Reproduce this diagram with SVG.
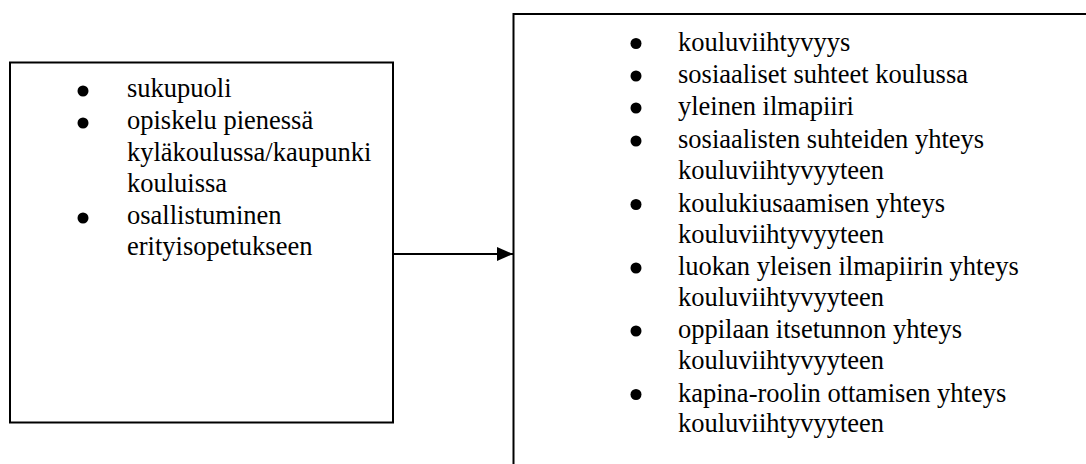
<svg xmlns="http://www.w3.org/2000/svg" width="1086" height="464" viewBox="0 0 1086 464">
  <style>
    .box { fill: #ffffff; stroke: #000000; stroke-width: 2; }
    .txt { font-family: "Liberation Serif", "Times New Roman", serif; font-size: 26.5px; fill: #000000; }
    .dot { fill: #000000; }
    .edge { stroke: #000000; stroke-width: 2; fill: none; }
  </style>
  <defs>
    <marker id="arrow" markerWidth="16" markerHeight="14" refX="16" refY="7" orient="auto" markerUnits="userSpaceOnUse">
      <path d="M0,0 L16,7 L0,14 Z" fill="#000000"/>
    </marker>
  </defs>

  <rect width="1086" height="464" fill="#ffffff"/>

  <!-- background factors -->
  <g id="node-background">
    <rect class="box" x="10" y="62.5" width="383" height="360"/>
    <circle class="dot" cx="83" cy="91" r="5.5"/>
    <circle class="dot" cx="83" cy="123" r="5.5"/>
    <circle class="dot" cx="83" cy="218" r="5.5"/>
    <text class="txt">
      <tspan x="127" y="97">sukupuoli</tspan>
      <tspan x="127" y="129">opiskelu pienessä</tspan>
      <tspan x="127" y="161">kyläkoulussa/kaupunki</tspan>
      <tspan x="127" y="192">kouluissa</tspan>
      <tspan x="127" y="224">osallistuminen</tspan>
      <tspan x="127" y="255">erityisopetukseen</tspan>
    </text>
  </g>

  <!-- school wellbeing topics -->
  <g id="node-wellbeing">
    <rect class="box" x="513.5" y="14" width="600" height="500"/>
    <circle class="dot" cx="636" cy="43.5" r="5.5"/>
    <circle class="dot" cx="636" cy="76" r="5.5"/>
    <circle class="dot" cx="636" cy="108" r="5.5"/>
    <circle class="dot" cx="636" cy="141" r="5.5"/>
    <circle class="dot" cx="636" cy="204.5" r="5.5"/>
    <circle class="dot" cx="636" cy="268" r="5.5"/>
    <circle class="dot" cx="636" cy="331" r="5.5"/>
    <circle class="dot" cx="636" cy="394.5" r="5.5"/>
    <text class="txt">
      <tspan x="678" y="50.7">kouluviihtyvyys</tspan>
      <tspan x="678" y="83.3">sosiaaliset suhteet koulussa</tspan>
      <tspan x="678" y="115">yleinen ilmapiiri</tspan>
      <tspan x="678" y="148">sosiaalisten suhteiden yhteys</tspan>
      <tspan x="678" y="179.3">kouluviihtyvyyteen</tspan>
      <tspan x="678" y="211.5">koulukiusaamisen yhteys</tspan>
      <tspan x="678" y="242.7">kouluviihtyvyyteen</tspan>
      <tspan x="678" y="275">luokan yleisen ilmapiirin yhteys</tspan>
      <tspan x="678" y="306">kouluviihtyvyyteen</tspan>
      <tspan x="678" y="338.3">oppilaan itsetunnon yhteys</tspan>
      <tspan x="678" y="369.3">kouluviihtyvyyteen</tspan>
      <tspan x="678" y="401.7">kapina-roolin ottamisen yhteys</tspan>
      <tspan x="678" y="431.7">kouluviihtyvyyteen</tspan>
    </text>
  </g>

  <g id="connectors">
    <line class="edge" x1="393" y1="254" x2="513" y2="254" marker-end="url(#arrow)"/>
  </g>
</svg>
